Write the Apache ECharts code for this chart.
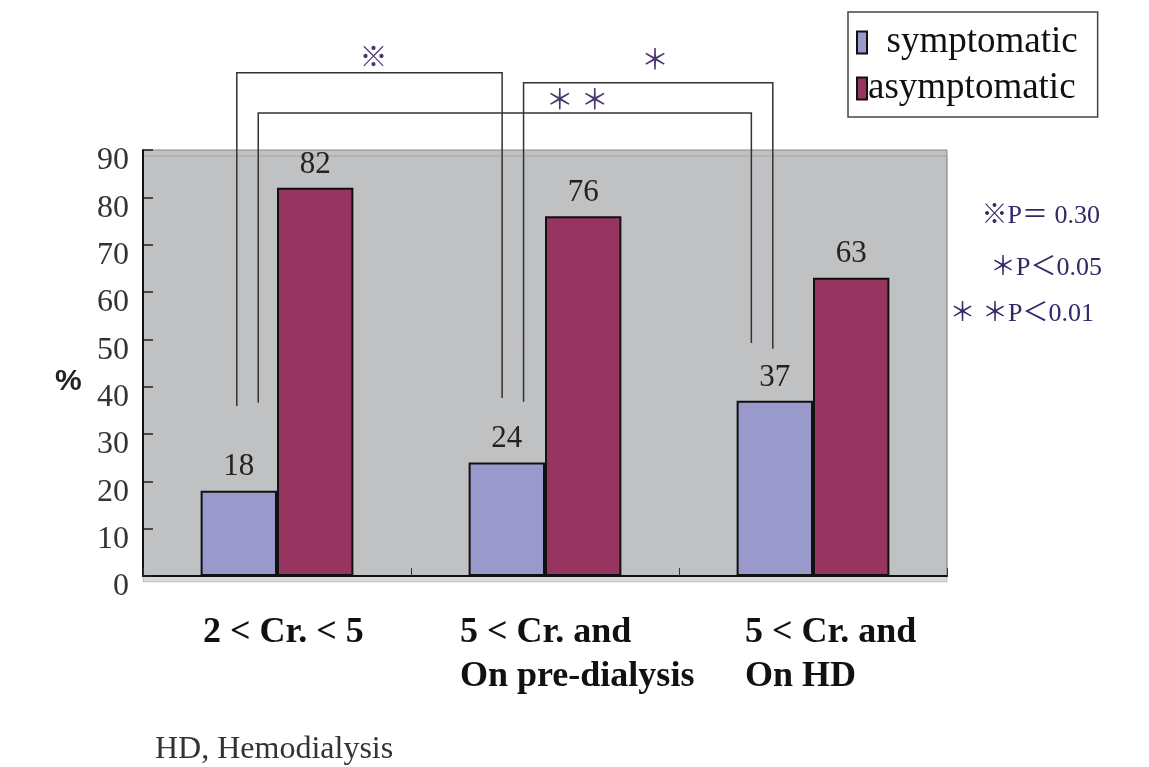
<!DOCTYPE html>
<html>
<head>
<meta charset="utf-8">
<script src="https://cdn.jsdelivr.net/npm/echarts@6/dist/echarts.min.js"></script>
<style>html,body{margin:0;padding:0;background:#fff}#c{width:1149px;height:767px}</style>
</head>
<body>
<div id="c"></div>
<script>
// ---- data ----
const categories = ['2 < Cr. < 5', '5 < Cr. and\nOn pre-dialysis', '5 < Cr. and\nOn HD'];
const symptomatic = [18, 24, 37];
const asymptomatic = [82, 76, 63];
const yTicks = [0, 10, 20, 30, 40, 50, 60, 70, 80, 90];
// significance brackets (x in category units 0..3, y in %)
const bracketLeft = [0.35, 1.42, 0.43];
const bracketRight = [1.34, 2.35, 2.27];
const bracketTop = [106.3, 104.2, 97.8];
const bracketLeftEnd = [35.9, 36.8, 36.6];
const bracketRightEnd = [37.6, 48.0, 49.2];
const bracketMarkX = [0.86, 1.91, 1.62];
const bracketMarkY = [109.0, 108.4, 100.0];
const bracketMarks = ['※', '＊', '＊ ＊'];
const pNotes = ['※P＝ 0.30', '＊P＜0.05', '＊ ＊P＜0.01'];
const footnote = 'HD, Hemodialysis';

const SERIF = '"Liberation Serif", "DejaVu Serif", serif';
const CJK = '"Liberation Serif", "Noto Sans CJK JP", serif';
const labelShift = [-74, -85, -68];

const chart = echarts.init(document.getElementById('c'), null, {renderer: 'canvas'});

const bracketData = bracketLeft.map((l, i) => [l, bracketRight[i], bracketTop[i], bracketLeftEnd[i], bracketRightEnd[i], bracketMarkX[i], bracketMarkY[i]]);

const noteStyle = {fontSize: 26, fontWeight: 'normal', fontFamily: CJK, color: '#2e2a66'};

chart.setOption({
  animation: false,
  backgroundColor: '#ffffff',
  title: [
    {text: '%', left: 50, top: 362, textStyle: {fontSize: 30, fontWeight: 'bold', fontFamily: '"Liberation Sans", Arial, sans-serif', color: '#222'}},
    {text: footnote, left: 150, top: 729, textStyle: {fontSize: 32, fontWeight: 'normal', fontFamily: SERIF, color: '#333'}},
    {text: pNotes[0], right: 44, top: 198, textStyle: noteStyle},
    {text: pNotes[1], right: 42, top: 250, textStyle: noteStyle},
    {text: pNotes[2], right: 50, top: 296, textStyle: noteStyle}
  ],
  legend: {
    data: ['symptomatic', 'asymptomatic'],
    orient: 'vertical',
    left: 848, top: 12,
    padding: [12, 20, 10, 8],
    itemWidth: 10, itemHeight: 22, itemGap: 9,
    borderColor: '#444', borderWidth: 1.5,
    icon: 'rect',
    formatter: n => n === 'symptomatic' ? '  ' + n : n,
    textStyle: {fontSize: 37, fontFamily: SERIF, color: '#111', padding: [0, 0, 0, -4]}
  },
  grid: {
    left: 143, right: 202, top: 150, bottom: 191,
    show: true, backgroundColor: '#c0c1c3', borderColor: '#888', borderWidth: 1,
    shadowColor: 'rgba(0,0,0,0.15)', shadowOffsetX: 0, shadowOffsetY: 6, shadowBlur: 0
  },
  xAxis: [
    {
      type: 'category',
      data: categories.map((c, i) => ({value: c, textStyle: {align: 'left', padding: [0, 0, 0, labelShift[i]]}})),
      axisLine: {lineStyle: {color: '#111', width: 2}},
      axisTick: {show: true, inside: true, length: 8, interval: 0, lineStyle: {color: '#333'}},
      axisLabel: {
        interval: 0, hideOverlap: false,
        align: 'left', verticalAlign: 'top', margin: 35,
        fontSize: 36, fontWeight: 'bold', fontFamily: SERIF, color: '#111', lineHeight: 44
      },
      splitLine: {show: false}
    },
    {type: 'value', min: 0, max: 3, show: false}
  ],
  yAxis: {
    type: 'value', min: 0, max: 90, interval: 10,
    axisLine: {show: true, lineStyle: {color: '#111', width: 2}},
    axisTick: {show: true, inside: true, length: 10, lineStyle: {color: '#222', width: 1.5}},
    splitLine: {show: false},
    axisLabel: {
      fontSize: 32, fontFamily: SERIF, color: '#333', margin: 14,
      verticalAlign: 'top', padding: [-5, 0, 0, 0],
      formatter: v => yTicks.includes(v) ? String(v) : ''
    }
  },
  series: [
    {
      name: 'symptomatic', type: 'bar', data: symptomatic,
      barGap: '0%', barCategoryGap: '43%',
      itemStyle: {color: '#9a99cc', borderColor: '#111', borderWidth: 2},
      label: {show: true, position: 'top', distance: 8, fontSize: 31, fontFamily: SERIF, color: '#222'}
    },
    {
      name: 'asymptomatic', type: 'bar', data: asymptomatic,
      itemStyle: {color: '#963560', borderColor: '#111', borderWidth: 2},
      label: {show: true, position: 'top', distance: 8, fontSize: 31, fontFamily: SERIF, color: '#222'}
    },
    {
      type: 'custom', xAxisIndex: 1, yAxisIndex: 0, clip: false, z: 5,
      data: bracketData,
      renderItem: (params, api) => {
        const i = params.dataIndex;
        const l = api.value(0), r = api.value(1), t = api.value(2), le = api.value(3), re = api.value(4);
        const p1 = api.coord([l, le]), p2 = api.coord([l, t]), p3 = api.coord([r, t]), p4 = api.coord([r, re]);
        const m = api.coord([api.value(5), api.value(6)]);
        return {
          type: 'group',
          children: [
            {type: 'polyline', shape: {points: [p1, p2, p3, p4]}, style: {stroke: '#333', lineWidth: 1.5, fill: null}},
            {type: 'text', x: m[0], y: m[1], style: {text: bracketMarks[i], fontSize: 28, fontFamily: CJK, fill: '#4a3670', align: 'center', verticalAlign: 'middle'}}
          ]
        };
      }
    }
  ]
});
</script>
</body>
</html>
